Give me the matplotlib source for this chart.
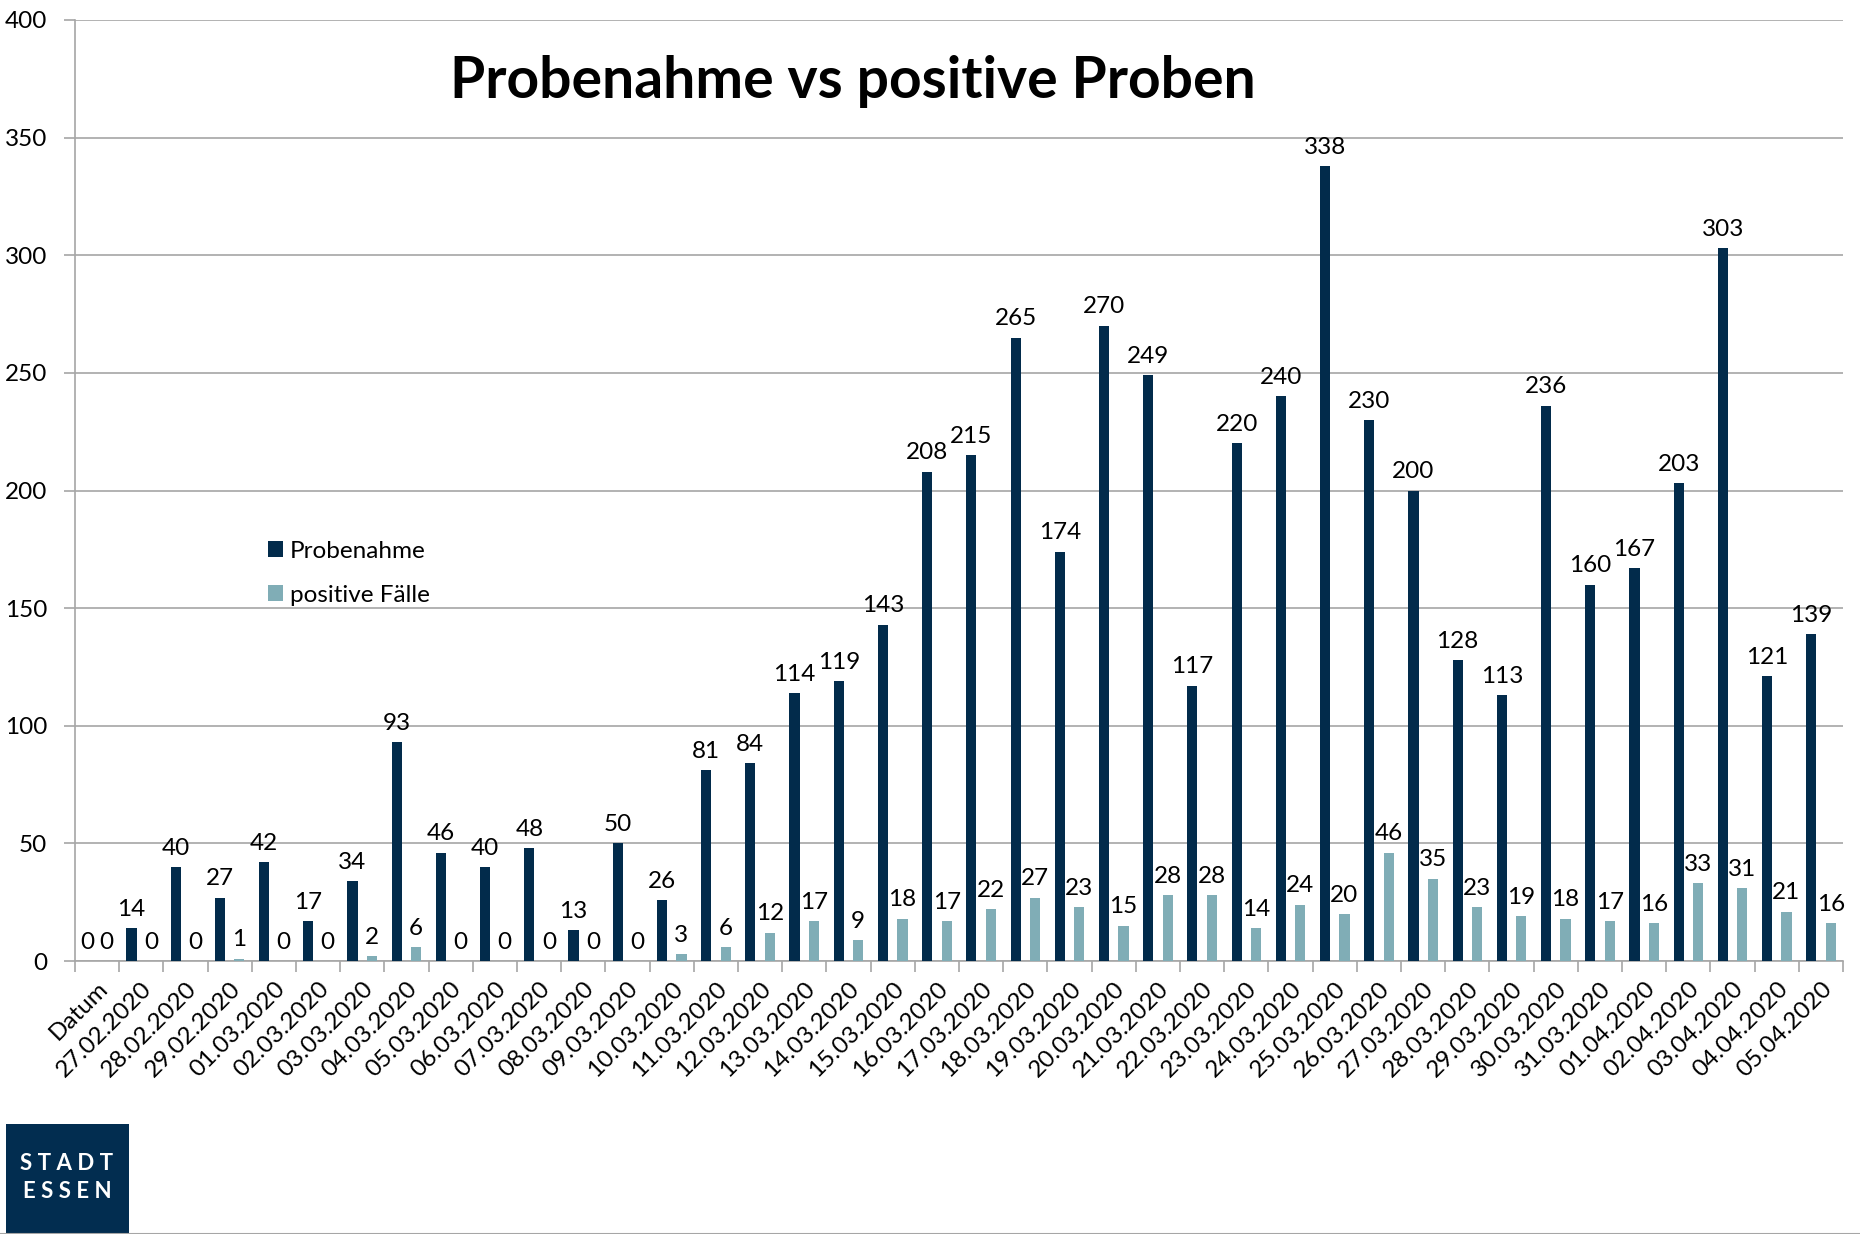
import matplotlib
matplotlib.use("Agg")
import matplotlib.pyplot as plt
import numpy as np
from matplotlib.patches import Rectangle

plt.rcParams['font.family'] = ['Lato', 'DejaVu Sans']

categories = ["Datum", "27.02.2020", "28.02.2020", "29.02.2020", "01.03.2020", "02.03.2020",
              "03.03.2020", "04.03.2020", "05.03.2020", "06.03.2020", "07.03.2020", "08.03.2020",
              "09.03.2020", "10.03.2020", "11.03.2020", "12.03.2020", "13.03.2020", "14.03.2020",
              "15.03.2020", "16.03.2020", "17.03.2020", "18.03.2020", "19.03.2020", "20.03.2020",
              "21.03.2020", "22.03.2020", "23.03.2020", "24.03.2020", "25.03.2020", "26.03.2020",
              "27.03.2020", "28.03.2020", "29.03.2020", "30.03.2020", "31.03.2020", "01.04.2020",
              "02.04.2020", "03.04.2020", "04.04.2020", "05.04.2020"]
probenahme = [0, 14, 40, 27, 42, 17, 34, 93, 46, 40, 48, 13, 50, 26, 81, 84, 114, 119, 143,
              208, 215, 265, 174, 270, 249, 117, 220, 240, 338, 230, 200, 128, 113, 236, 160,
              167, 203, 303, 121, 139]
positive = [0, 0, 0, 1, 0, 0, 2, 6, 0, 0, 0, 0, 0, 3, 6, 12, 17, 9, 18, 17, 22, 27, 23, 15,
            28, 28, 14, 24, 20, 46, 35, 23, 19, 18, 17, 16, 33, 31, 21, 16]
yticks = [0, 50, 100, 150, 200, 250, 300, 350, 400]

dark = "#022b4b"
light = "#80adb6"
grid = "#a6a6a6"
fs = 17.5

fig = plt.figure(figsize=(18.6, 12.34), dpi=100)
ax = fig.add_axes([0.0403, 0.2212, 0.9506, 0.7626])

x = np.arange(len(categories))
w = 0.23
off = 0.22
ax.bar(x - off, probenahme, w, color=dark, label="Probenahme", zorder=3)
ax.bar(x + off, positive, w, color=light, label="positive Fälle", zorder=3)

for xi, v in zip(x, probenahme):
    ax.annotate(str(v), (xi - off, v), xytext=(0, 6), textcoords="offset points",
                ha="center", va="bottom", fontsize=fs, color="black")
for xi, v in zip(x, positive):
    ax.annotate(str(v), (xi + off, v), xytext=(0, 6), textcoords="offset points",
                ha="center", va="bottom", fontsize=fs, color="black")

ax.set_xlim(-0.5, len(categories) - 0.5)
ax.set_ylim(0, 400)
ax.set_yticks(yticks)
ax.yaxis.grid(True, color=grid, linewidth=1.2, zorder=0)
ax.set_axisbelow(True)
ax.tick_params(axis="y", length=8, color=grid, width=1.2, labelsize=fs, pad=12)
ax.set_xticks(x)
ax.set_xticklabels(categories, rotation=45, ha="right", rotation_mode="anchor", fontsize=fs)
ax.tick_params(axis="x", length=0, pad=12)
ax.set_xticks(np.arange(-0.5, len(categories), 1), minor=True)
ax.tick_params(axis="x", which="minor", length=8, color=grid, width=1.2)
for s in ["top", "right"]:
    ax.spines[s].set_visible(False)
for s in ["left", "bottom"]:
    ax.spines[s].set_color(grid)
    ax.spines[s].set_linewidth(1.2)

fig.text(0.4586, 0.934, "Probenahme vs positive Proben", ha="center", va="center",
         fontsize=41, fontweight="bold", color="black")

ax.legend(loc="upper left", bbox_to_anchor=(0.097, 0.47), frameon=False, fontsize=fs,
          handlelength=0.6, handleheight=0.6, handletextpad=0.3, labelspacing=0.95)

# logo
fig.patches.append(Rectangle((6 / 1860, 0), 123 / 1860, 110 / 1234, transform=fig.transFigure,
                             facecolor="#022d50", edgecolor="none"))
fig.text(67 / 1860, 1 - 1163 / 1234, "S T A D T", ha="center", va="center", color="white",
         fontsize=16, fontweight="bold")
fig.text(67 / 1860, 1 - 1192 / 1234, "E S S E N", ha="center", va="center", color="white",
         fontsize=16, fontweight="bold")
fig.lines.append(plt.Line2D([0, 1], [0.5 / 1234, 0.5 / 1234], transform=fig.transFigure,
                            color=grid, linewidth=1.5))

fig.savefig("out.png", dpi=100)
